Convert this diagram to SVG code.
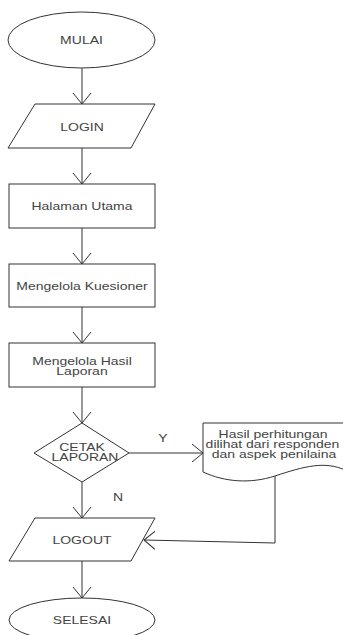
<svg xmlns="http://www.w3.org/2000/svg" width="343" height="635" viewBox="0 0 343 635">
<style>
.s{fill:#ffffff;stroke:#333333;stroke-width:1}
.c{fill:none;stroke:#333333;stroke-width:1}
.t{font-family:"Liberation Sans",Arial,sans-serif;font-size:10px;fill:#444444;text-anchor:middle}
</style>
<defs>
<marker id="a" markerUnits="userSpaceOnUse" viewBox="0 0 12 20" refX="11" refY="10" markerWidth="12" markerHeight="20" orient="auto">
<path d="M0,1 L11,10 L0,19" fill="none" stroke="#333333" stroke-width="1"/>
</marker>
</defs>
<rect width="343" height="635" fill="#ffffff"/>
<g id="connectors">
<line class="c" x1="82" y1="68" x2="82" y2="104" marker-end="url(#a)"/>
<line class="c" x1="82" y1="148" x2="82" y2="184" marker-end="url(#a)"/>
<line class="c" x1="82" y1="228" x2="82" y2="264" marker-end="url(#a)"/>
<line class="c" x1="82" y1="307" x2="82" y2="343" marker-end="url(#a)"/>
<line class="c" x1="82" y1="387" x2="82" y2="423" marker-end="url(#a)"/>
<line class="c" x1="82" y1="482" x2="82" y2="518" marker-end="url(#a)"/>
<line class="c" x1="82" y1="561" x2="82" y2="598" marker-end="url(#a)"/>
<line class="c" x1="129" y1="453" x2="203" y2="453" marker-end="url(#a)"/>
<path class="c" d="M275,476 V543 L144,540" marker-end="url(#a)"/>
<text class="t" transform="translate(163,441.5) scale(1.4,1)">Y</text>
<text class="t" transform="translate(118,500.5) scale(1.4,1)">N</text>
</g>
<g id="mulai">
<ellipse class="s" cx="81.5" cy="40" rx="73.5" ry="28"/>
<text class="t" transform="translate(81.5,43.5) scale(1.4,1)">MULAI</text>
</g>
<g id="login">
<polygon class="s" points="35,104 155,104 131,148 8,148"/>
<text class="t" transform="translate(82,130.5) scale(1.4,1)">LOGIN</text>
</g>
<g id="halaman">
<rect class="s" x="9" y="184" width="146" height="44"/>
<text class="t" transform="translate(82,209.5) scale(1.4,1)">Halaman Utama</text>
</g>
<g id="kuesioner">
<rect class="s" x="9" y="264" width="146" height="43"/>
<text class="t" transform="translate(82,290) scale(1.4,1)">Mengelola Kuesioner</text>
</g>
<g id="hasil">
<rect class="s" x="9" y="343" width="146" height="44"/>
<text class="t" transform="translate(82,364.5) scale(1.4,1)">Mengelola Hasil</text>
<text class="t" transform="translate(82,374.5) scale(1.4,1)">Laporan</text>
</g>
<g id="cetak">
<polygon class="s" points="82,423 129,453 82,482 34,453"/>
<text class="t" transform="translate(82,450.5) scale(1.4,1)">CETAK</text>
<text class="t" transform="translate(85,460.5) scale(1.4,1)">LAPORAN</text>
</g>
<g id="dokumen">
<path class="s" d="M203,423 H345 V470 C325,461 305,466 275,476 C250,484 225,482 203,472 Z"/>
<text class="t" transform="translate(273,437.5) scale(1.4,1)">Hasil perhitungan</text>
<text class="t" transform="translate(272.5,447.5) scale(1.4,1)">dilihat dari responden</text>
<text class="t" transform="translate(274,457.5) scale(1.4,1)">dan aspek penilaina</text>
</g>
<g id="logout">
<polygon class="s" points="35,518 155,518 131,561 9,561"/>
<text class="t" transform="translate(82,543.5) scale(1.4,1)">LOGOUT</text>
</g>
<g id="selesai">
<ellipse class="s" cx="82" cy="620" rx="73" ry="22"/>
<text class="t" transform="translate(82,623.5) scale(1.4,1)">SELESAI</text>
</g>
</svg>
